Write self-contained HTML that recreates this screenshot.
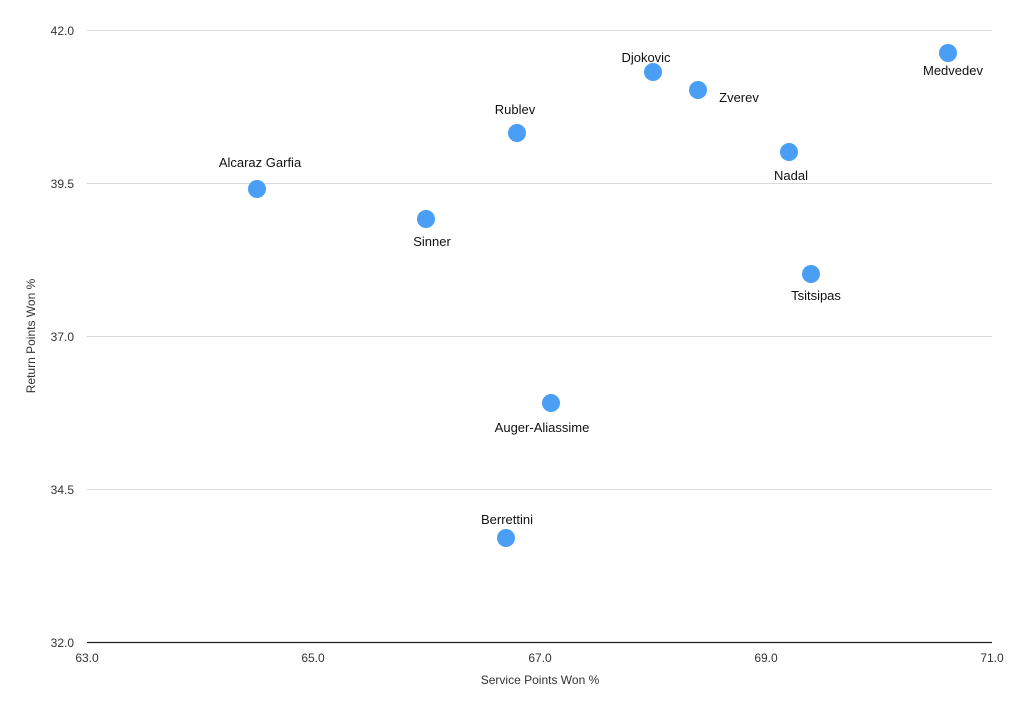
<!DOCTYPE html>
<html><head><style>
body{margin:0;background:#fff;}
svg text{font-family:"Liberation Sans",sans-serif;}
</style></head><body>
<svg width="1024" height="705" xmlns="http://www.w3.org/2000/svg">
<g stroke="#d9d9d9" stroke-width="1">
<line x1="87" y1="30.5" x2="992" y2="30.5"/>
<line x1="87" y1="183.5" x2="992" y2="183.5"/>
<line x1="87" y1="336.5" x2="992" y2="336.5"/>
<line x1="87" y1="489.5" x2="992" y2="489.5"/>
</g>
<line x1="87" y1="642.5" x2="992" y2="642.5" stroke="#222" stroke-width="1.2"/>
<g font-size="12" fill="#333" text-anchor="end">
<text x="74" y="35">42.0</text>
<text x="74" y="188">39.5</text>
<text x="74" y="341">37.0</text>
<text x="74" y="494">34.5</text>
<text x="74" y="647">32.0</text>
</g>
<g font-size="12" fill="#333" text-anchor="middle">
<text x="87" y="662">63.0</text>
<text x="313" y="662">65.0</text>
<text x="540" y="662">67.0</text>
<text x="766" y="662">69.0</text>
<text x="992" y="662">71.0</text>
<text x="540" y="684">Service Points Won %</text>
<text transform="translate(35,336) rotate(-90)">Return Points Won %</text>
</g>
<g fill="#4a9ff5">
<circle cx="257" cy="189" r="9"/>
<circle cx="426" cy="219" r="9"/>
<circle cx="517" cy="133" r="9"/>
<circle cx="551" cy="403" r="9"/>
<circle cx="506" cy="538" r="9"/>
<circle cx="653" cy="72" r="9"/>
<circle cx="698" cy="90" r="9"/>
<circle cx="789" cy="152" r="9"/>
<circle cx="811" cy="274" r="9"/>
<circle cx="948" cy="53" r="9"/>
</g>
<g font-size="13" fill="#111" text-anchor="middle">
<text x="260" y="167">Alcaraz Garfia</text>
<text x="432" y="246">Sinner</text>
<text x="515" y="114">Rublev</text>
<text x="542" y="432">Auger-Aliassime</text>
<text x="507" y="524">Berrettini</text>
<text x="646" y="62">Djokovic</text>
<text x="739" y="102">Zverev</text>
<text x="791" y="180">Nadal</text>
<text x="816" y="300">Tsitsipas</text>
<text x="953" y="75">Medvedev</text>
</g>
</svg>
</body></html>
